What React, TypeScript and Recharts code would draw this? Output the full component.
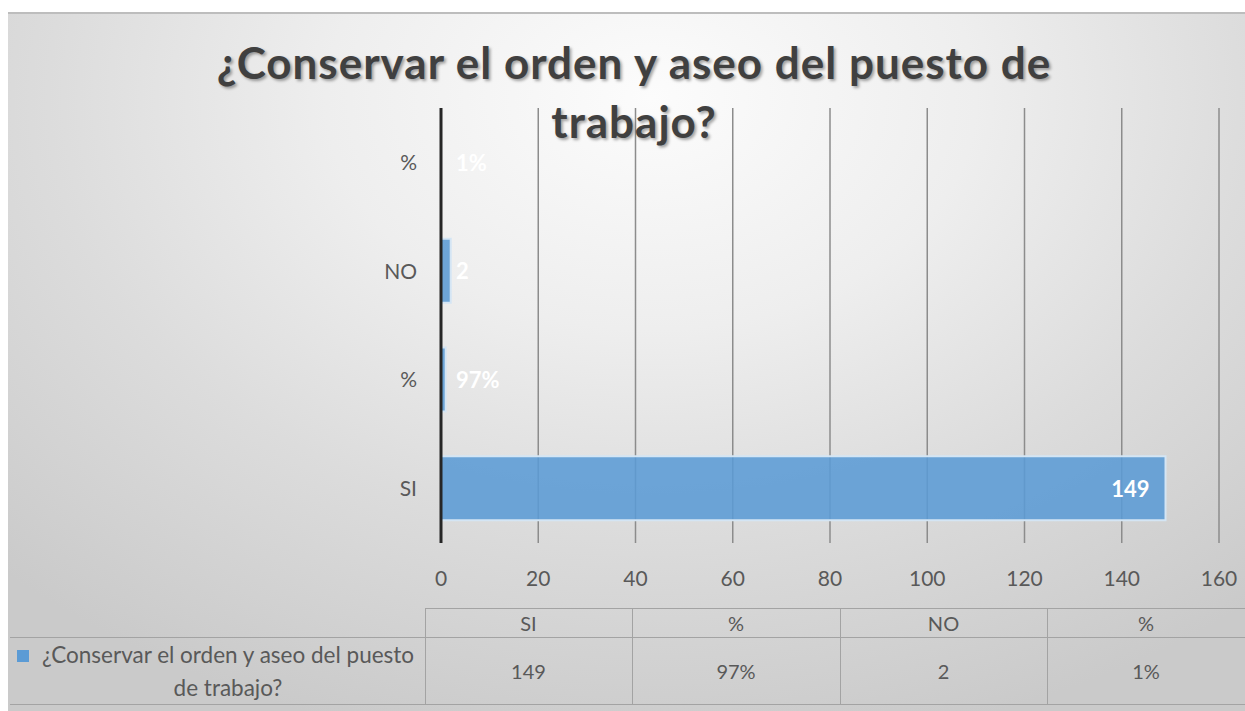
import React from 'react';
import { BarChart, Bar, XAxis, YAxis, CartesianGrid, LabelList } from 'recharts';

const categories = ['SI', '%', 'NO', '%'];
const values = [149, 0.97, 2, 0.01];
const valueLabels = ['149', '97%', '2', '1%'];
const xTicks = [0, 20, 40, 60, 80, 100, 120, 140, 160];
const titleLines = ['¿Conservar el orden y aseo del puesto de', 'trabajo?'];
const seriesLines = ['¿Conservar el orden y aseo del puesto', 'de trabajo?'];

const data = categories.map((c, i) => ({ key: `c${i}`, name: c, value: values[i], label: valueLabels[i] }));

const FONT = 'Lato, "Open Sans", sans-serif';
const TXT = '#595959';

const renderLabel = (props: any) => {
  const { x, y, width, height, value } = props;
  const big = width > 60;
  return (
    <text
      x={big ? x + width - 16 : x + 15}
      y={y + height / 2}
      textAnchor={big ? 'end' : 'start'}
      dominantBaseline="central"
      fill="#ffffff"
      fontFamily={FONT}
      fontWeight={700}
      fontSize={22}
    >
      {value}
    </text>
  );
};

const BOX_L = 8;
const BOX_T = 12;

export default function App() {
  const colX = [425, 632, 840, 1047, 1245];
  const tTop = 608, tRow = 637, tBot = 704;
  const lineColor = '#a3a3a3';
  return (
    <div style={{ position: 'fixed', left: 0, top: 0, width: 1245, height: 711, background: '#ffffff', overflow: 'hidden', fontFamily: FONT }}>
      <div
        style={{
          position: 'absolute', left: BOX_L, top: BOX_T, width: 1245 - BOX_L, height: 711 - BOX_T,
          background: 'radial-gradient(ellipse 75% 95% at 52% 12%, #fcfcfc 0%, #eeeeee 35%, #dcdcdc 65%, #cacaca 100%)',
          borderTop: '2px solid #bdbdbd', boxSizing: 'border-box',
        }}
      />
      <div style={{ position: 'absolute', left: BOX_L, top: BOX_T }}>
        <BarChart
          width={1245 - BOX_L}
          height={711 - BOX_T}
          layout="vertical"
          data={data}
          margin={{ top: 96, right: 26, bottom: 118, left: 373 }}
          barSize={64}
        >
          <CartesianGrid horizontal={false} stroke="#8c8c8c" strokeWidth={1.5} />
          <XAxis
            type="number"
            domain={[0, 160]}
            ticks={xTicks}
            interval={0}
            axisLine={false}
            tickLine={false}
            tickMargin={22}
            height={50}
            tick={{ fill: TXT, fontSize: 21, fontFamily: FONT }}
          />
          <YAxis
            type="category"
            dataKey="key"
            reversed
            width={60}
            axisLine={{ stroke: '#262626', strokeWidth: 3 }}
            tickLine={false}
            tickMargin={18}
            tickFormatter={(k: string) => (data.find((d) => d.key === k) || { name: '' }).name}
            tick={{ fill: TXT, fontSize: 21, fontFamily: FONT }}
          />
          <Bar dataKey="value" fill="#5B9BD5" fillOpacity={0.88} stroke="#d4e5f4" strokeWidth={2} isAnimationActive={false}>
            <LabelList dataKey="label" content={renderLabel} />
          </Bar>
        </BarChart>
      </div>
      {/* Title */}
      <div
        style={{
          position: 'absolute', left: 134, width: 1000, top: 33, textAlign: 'center',
          fontSize: 44, lineHeight: '59px', fontWeight: 700, color: '#404040', letterSpacing: '1px',
          textShadow: '2px 2px 3px rgba(0,0,0,0.35)', whiteSpace: 'nowrap',
        }}
      >
        <div>{titleLines[0]}</div>
        <div>{titleLines[1]}</div>
      </div>
      {/* Data table */}
      <div style={{ position: 'absolute', left: colX[0], top: tTop, width: 1245 - colX[0], height: 1, background: lineColor }} />
      <div style={{ position: 'absolute', left: 10, top: tRow, width: 1235, height: 1, background: lineColor }} />
      <div style={{ position: 'absolute', left: 10, top: tBot, width: 1235, height: 1, background: lineColor }} />
      {colX.slice(0, 4).map((x, i) => (
        <div key={`v${i}`} style={{ position: 'absolute', left: x, top: tTop, width: 1, height: tBot - tTop, background: lineColor }} />
      ))}
      {categories.map((c, i) => (
        <div key={`h${i}`} style={{ position: 'absolute', left: colX[i], width: colX[i + 1] - colX[i], top: tTop, height: tRow - tTop, display: 'flex', alignItems: 'center', justifyContent: 'center', fontSize: 20, color: TXT }}>
          {c}
        </div>
      ))}
      {valueLabels.map((v, i) => (
        <div key={`d${i}`} style={{ position: 'absolute', left: colX[i], width: colX[i + 1] - colX[i], top: tRow, height: tBot - tRow, display: 'flex', alignItems: 'center', justifyContent: 'center', fontSize: 20, color: TXT }}>
          {v}
        </div>
      ))}
      <div style={{ position: 'absolute', left: 17, top: 650, width: 12, height: 12, background: '#5B9BD5' }} />
      <div style={{ position: 'absolute', left: 34, width: 388, top: 638, textAlign: 'center', fontSize: 22.5, lineHeight: '33px', color: TXT, whiteSpace: 'nowrap' }}>
        <div>{seriesLines[0]}</div>
        <div>{seriesLines[1]}</div>
      </div>
    </div>
  );
}
